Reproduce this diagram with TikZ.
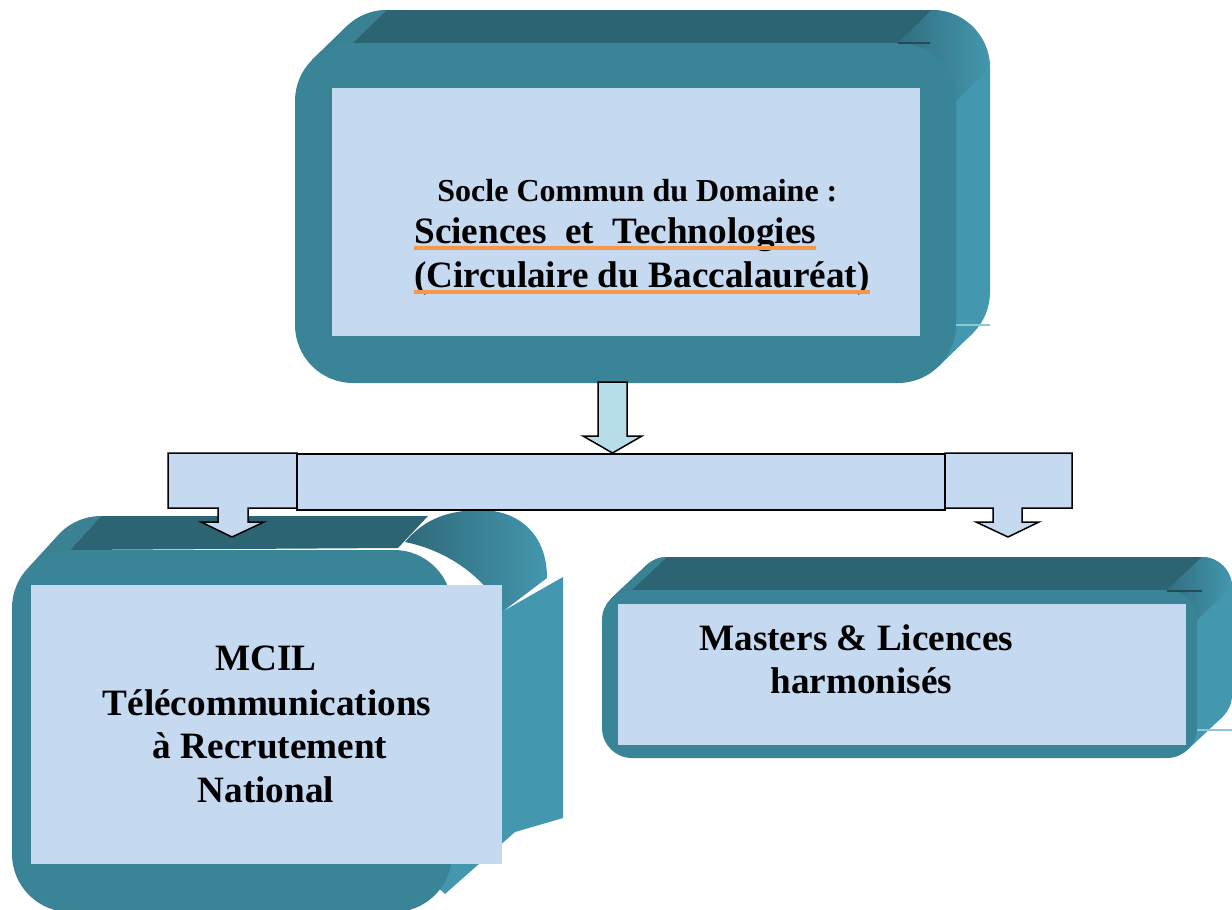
\documentclass[tikz,border=0pt]{standalone}
\usepackage{fontspec}
\setmainfont{Liberation Serif}
\usetikzlibrary{calc}

\definecolor{topface}{HTML}{2D6474}
\definecolor{frontface}{HTML}{3A8498}
\definecolor{sideface}{HTML}{4397AE}
\definecolor{cornerface}{HTML}{3A8194}
\definecolor{panelfill}{HTML}{C5D9F0}
\definecolor{arrowfill}{HTML}{B7DEE8}
\definecolor{ulorange}{HTML}{F79646}
\definecolor{edgedark}{HTML}{1F4C58}
\definecolor{edgelight}{HTML}{8FC7D6}

\tikzset{
  panelnode/.style={fill=panelfill, draw=none, inner sep=0pt},
  blockarrow/.style={draw=black, line width=0.75pt, line join=miter, fill=panelfill},
  txtw/.style={inner sep=0pt, anchor=base west},
  txtc/.style={inner sep=0pt, anchor=base},
  bigtxt/.style={font=\bfseries\fontsize{18.6}{22}\selectfont},
  smalltxt/.style={font=\bfseries\fontsize{16}{19}\selectfont},
  uline/.style={draw=ulorange, line width=2pt},
}

% Extruded rounded slab: front face (#1,#2)-(#3,#4), corner radius #5,
% depth offset #6 to the right and #7 upwards.
\newcommand{\slab}[7]{%
  \pgfmathsetmacro{\rr}{#5*0.5}%
  \pgfmathsetmacro{\kk}{#5*0.2929}%
  % body of the extrusion
  \fill[sideface, rounded corners=\rr pt] (#1+#6,#2-#7) rectangle (#3+#6,#4-#7);
  \fill[sideface] (#1+\kk,#2+\kk) -- (#1+\kk+#6,#2+\kk-#7)
       -- (#3-\kk+#6,#4-\kk-#7) -- (#3-\kk,#4-\kk) -- cycle;
  % upper left corner facet
  \fill[cornerface] (#1+\kk,#2+\kk) -- (#1+\kk+#6,#2+\kk-#7)
       arc[start angle=225, end angle=270, radius=#5] -- (#1+#5,#2) -- cycle;
  % top face
  \fill[topface] (#1+#5+#6,#2-#7) -- (#3-#5+#6,#2-#7) -- (#3-#5,#2) -- (#1+#5,#2) -- cycle;
  % upper right corner facet
  \shade[left color=topface!80!sideface, right color=sideface]
       (#3-#5,#2) -- (#3-#5+#6,#2-#7)
       arc[start angle=270, end angle=360, radius=#5] -- (#3,#2+#5) -- cycle;
  % front face
  \fill[frontface, rounded corners=\rr pt] (#1,#2) rectangle (#3,#4);
}

\begin{document}
\begin{tikzpicture}[x=0.5pt, y=-0.5pt]
\useasboundingbox (0,0) rectangle (1232,910);
\clip (0,0) rectangle (1232,910);

% ---------- top slab ----------
\slab{295}{43}{956}{383}{58}{34}{33}
\draw[edgedark, line width=0.8pt] (898,43) -- (930,43);
\draw[edgelight, line width=0.8pt] (956,325) -- (990,325);
\node[panelnode, minimum width=294pt, minimum height=124pt] (socle) at (626,212) {};

\node[txtw, smalltxt] (l1) at (437,201) {Socle Commun du Domaine :};
\node[txtw, bigtxt] (l2) at (414,243) {Sciences~~et~~Technologies};
\node[txtw, bigtxt] (l3) at (414,287) {(Circulaire du Baccalauréat)};
\draw[uline] ($(l2.base west)+(0,5)$) -- ($(l2.base east)+(0,5)$);
\draw[uline] ($(l3.base west)+(0,5)$) -- ($(l3.base east)+(0,5)$);

% ---------- lower right slab ----------
\slab{602}{590}{1197}{758}{30}{35}{33}
\draw[edgedark, line width=0.8pt] (1167,591) -- (1202,591);
\draw[edgelight, line width=0.8pt] (1197,730) -- (1232,730);
\node[panelnode, minimum width=284pt, minimum height=70.5pt] (masters) at (902,674.5) {};
\node[txtw, bigtxt] (h1) at (699,650) {Masters \& Licences};
\node[txtw, bigtxt] (h2) at (770,693) {harmonisés};

% ---------- lower left slab ----------
% side panel
\fill[sideface] (470,630) -- (563,577) -- (563,818) -- (515,832) -- (445,894) -- (430,880) -- cycle;
% rounded upper right lobe
\shade[left color=topface!90!sideface, right color=sideface]
  (405,542) .. controls (425,518) and (450,510) .. (482,510)
  .. controls (520,511) and (547,535) .. (547,578)
  -- (502,612) .. controls (490,585) and (455,552) .. (405,542) -- cycle;
% upper left corner facet and top face
\fill[cornerface] (29,567) -- (60,533) arc[start angle=225, end angle=270, radius=58]
  -- (70,550) -- cycle;
\fill[topface] (101,516) -- (428,516) -- (398,548) -- (70,550) -- cycle;
% front face
\fill[frontface, rounded corners=29pt] (12,550) rectangle (452,912);
\node[panelnode, minimum width=235.5pt, minimum height=139.5pt] (mcil) at (266.5,724.5) {};
\node[txtc, bigtxt] (m1) at (266,670) {MCIL};
\node[txtc, bigtxt] (m2) at (267,715) {Télécommunications};
\node[txtc, bigtxt] (m3) at (270,758) {à Recrutement};
\node[txtc, bigtxt] (m4) at (266,802) {National};

% ---------- distribution bar with arrows ----------
\draw[blockarrow] (168,453) -- (297,453) -- (297,508) -- (248,508) -- (248,522)
  -- (264,522) -- (232,537) -- (201,522) -- (218,522) -- (218,508) -- (168,508) -- cycle;
\draw[blockarrow] (945,453) -- (1072,453) -- (1072,508) -- (1022,508) -- (1022,522)
  -- (1039,522) -- (1008,537) -- (976,522) -- (993,522) -- (993,508) -- (945,508) -- cycle;
\draw[blockarrow] (297,454) rectangle (945,510);
\draw[blockarrow, fill=arrowfill] (598,382) -- (627,382) -- (627,436) -- (642,436)
  -- (612.5,453) -- (583,436) -- (598,436) -- cycle;
\end{tikzpicture}
\end{document}
